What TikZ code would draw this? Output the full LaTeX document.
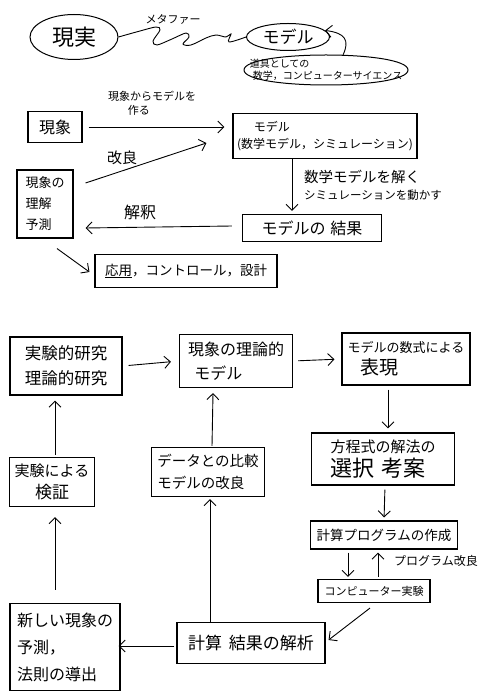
\documentclass[tikz,border=0pt]{standalone}
\usepackage{fontspec}
\setmainfont{Noto Sans CJK JP}
\usetikzlibrary{arrows.meta,shapes.geometric}
\newcommand\fz[2]{\fontsize{#1}{#2}\selectfont}
\begin{document}
\begin{tikzpicture}[x=1pt,y=-1pt,
  box/.style={draw, line width=1.1pt, inner sep=2pt, align=left},
  oval/.style={draw, ellipse, line width=1pt, inner sep=0pt},
  arr/.style={line width=0.9pt, -{Straight Barb[length=6pt,width=12pt]}},
  ln/.style={line width=0.9pt},
  lbl/.style={inner sep=0pt, align=left}]
\useasboundingbox (0,0) rectangle (487,700);

% ---------- top: metaphor ----------
\node[oval, minimum width=88, minimum height=45, font=\fz{22}{26}] (jj) at (74,37) {現実};
\node[oval, minimum width=83, minimum height=27, font=\fz{17}{20}] (md) at (288,37) {モデル};
\node[lbl, font=\fz{10}{12.5}] (tool) at (326,70) {道具としての\\\hspace{0.3em}数学，コンピューターサイエンス};
\draw[line width=1pt] (244,70) .. controls (244,50) and (408,50) .. (408,70)
                      .. controls (408,90) and (244,90) .. (244,70);
\node[lbl, font=\fz{11}{13}] (meta) at (173,19) {メタファー};
\draw[ln] plot[smooth, tension=0.55] coordinates {(jj.east) (140,31) (156,27) (160,30) (153,41) (157,45) (172,39) (186,33) (189,37) (183,44) (191,45) (206,38) (216,35) (226,37) (231,34) (229,42) (md.west)};
\draw[arr] ([shift={(17,-15)}]tool.center) .. controls (350,40) and (345,33) .. (md.10);

% ---------- middle: model cycle ----------
\node[box, minimum width=54, minimum height=31, font=\fz{16}{19}] (gs) at (55,127) {現象};
\node[box, minimum width=184, minimum height=45, font=\fz{12}{17}] (mdl) at (325,136) {\hspace{1.4em}モデル\\(数学モデル，シミュレーション)};
\node[box, minimum width=56, minimum height=68, font=\fz{13}{21}] (ur) at (45,204) {現象の\\理解\\予測};
\node[box, minimum width=139, minimum height=27, font=\fz{16}{19}] (kk) at (312,228) {モデルの\hspace{0.3em}結果};
\node[box, minimum width=182, minimum height=33, font=\fz{13.5}{16}] (ap) at (186,271) {\underline{応用}，コントロール，設計};

\node[lbl, font=\fz{11}{14}] (l1) at (152,103) {現象からモデルを\\\hspace{1.8em}作る};
\node[lbl, font=\fz{15}{18}] (l2) at (122,158) {改良};
\node[lbl, font=\fz{14}{17}] (l3) at (373,185) {{\fz{14.5}{18}数学モデルを解く}\\{\fz{11.5}{18}シミュレーションを動かす}};
\node[lbl, font=\fz{16}{19}] (l4) at (140,212) {解釈};

\draw[arr, shorten <=6pt, shorten >=8pt] (gs.east) -- (gs.east -| mdl.west);
\draw[arr] ([shift={(12,-21)}]ur.east) -- ([shift={(-26,7)}]mdl.west);
\draw[arr] ([shift={(-33,0)}]mdl.south) -- ([shift={(-20,-3)}]kk.north);
\draw[arr] ([shift={(-10,-2)}]kk.west) -- ([shift={(12,24)}]ur.east);
\draw[arr] ([shift={(12,10)}]ur.south) -- ([shift={(-5,1)}]ap.west);

% ---------- bottom: research cycle ----------
\node[box, minimum width=112, minimum height=58, font=\fz{16.5}{25}] (A) at (66,366) {実験的研究\\理論的研究};
\node[box, minimum width=113, minimum height=53, font=\fz{16}{24}] (B) at (236,361) {現象の理論的\\\hspace{0.4em}モデル};
\node[box, minimum width=128, minimum height=52, font=\fz{13}{22}] (C) at (406,359) {モデルの数式による\\\hspace{1em}{\fz{19}{22}表現}};
\node[box, minimum width=143, minimum height=52, font=\fz{15}{24}] (D) at (383,459) {方程式の解法の\\{\fz{22}{24}選択\hspace{0.3em}考案}};
\node[box, minimum width=147, minimum height=28, font=\fz{13.5}{16}] (E) at (384,535) {計算プログラムの作成};
\node[box, minimum width=112, minimum height=23, font=\fz{11}{13}] (F) at (374,591) {コンピューター実験};
\node[box, minimum width=148, minimum height=41, font=\fz{17}{20}] (G) at (251,643) {計算\hspace{0.4em}結果の解析};
\node[box, minimum width=110, minimum height=87, font=\fz{16}{27}] (H) at (65,647) {新しい現象の\\予測，\\法則の導出};
\node[box, minimum width=85, minimum height=49, font=\fz{15}{22}, align=center] (I) at (52,482) {実験による\\{\fz{17}{22}検証}};
\node[box, minimum width=113, minimum height=49, font=\fz{14.5}{22}] (J) at (208,472) {データとの比較\\モデルの改良};
\node[lbl, font=\fz{12}{14}] (l5) at (436,561) {プログラム改良};

\draw[arr, shorten <=6pt, shorten >=8pt] (A.east) -- (B.west);
\draw[arr, shorten <=5pt, shorten >=7pt] (B.east) -- (C.west);
\draw[arr, shorten <=4pt, shorten >=4pt] ([shift={(-18,0)}]C.south) -- ([shift={(5,0)}]D.north);
\draw[arr, shorten <=4pt, shorten >=3pt] ([shift={(2,0)}]D.south) -- (E.north);
\draw[arr, shorten <=3pt, shorten >=2pt] ([shift={(-36,0)}]E.south) -- ([shift={(-26,0)}]F.north);
\draw[arr, shorten <=2pt, shorten >=3pt] ([shift={(4,0)}]F.north) -- ([shift={(-6,0)}]E.south);
\draw[arr] ([shift={(-4,5)}]F.south) -- ([shift={(3,-3)}]G.east);
\draw[arr] ([shift={(-2,3)}]G.west) -- ([shift={(-2,-1)}]H.east);
\draw[arr, shorten >=2pt] ([shift={(-41,0)}]G.north) -- ([shift={(2,0)}]J.south);
\draw[arr] ([shift={(4,-1)}]J.north) -- ([shift={(-23,5)}]B.south);
\draw[arr] ([shift={(-10,-13)}]H.north) -- ([shift={(3,10)}]I.south);
\draw[arr] ([shift={(3,-2)}]I.north) -- ([shift={(-11,5)}]A.south);
\end{tikzpicture}
\end{document}
